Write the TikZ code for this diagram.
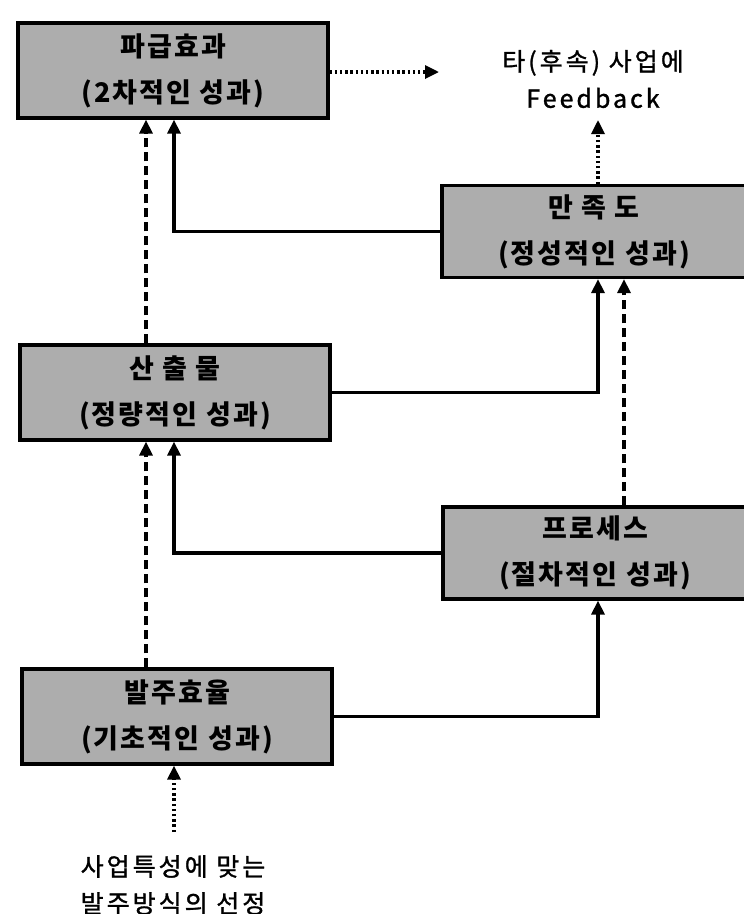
\documentclass[tikz,border=0pt]{standalone}
\usepackage{fontspec}
\newfontfamily\kr{Noto Sans CJK KR}[LetterSpace=8]
\newfontfamily\krm{Noto Sans CJK KR}[LetterSpace=12, FakeBold=1.2]
\usetikzlibrary{arrows.meta}
\definecolor{boxfill}{gray}{0.68}
\begin{document}
\begin{tikzpicture}[x=1pt,y=-1pt,
  box/.style={draw=black, line width=3.2pt, fill=boxfill, minimum width=310pt, minimum height=95pt,
    align=center, inner sep=0pt, font=\kr\bfseries\fontsize{27}{46}\selectfont},
  rbox/.style={box, minimum width=304pt, minimum height=92pt},
  arr/.style={-{Triangle[length=14pt,width=13pt]}},
  solidc/.style={line width=3.2pt, line join=miter, arr},
  dashc/.style={line width=3.2pt, dash pattern=on 9pt off 5pt, arr},
  dotc/.style={line width=3.2pt, dash pattern=on 2.4pt off 2.8pt, arr},
  lbl/.style={align=center, font=\krm\fontsize{25}{37}\selectfont}
]
\useasboundingbox (0,0) rectangle (744,914);

\node[box] (b1) at (173,70.5) {파급효과\\(2차적인 성과)};
\node[rbox] (b2) at (594,231.5) {만 족 도\\(정성적인 성과)};
\node[box] (b3) at (175,392.5) {산 출 물\\(정량적인 성과)};
\node[rbox] (b4) at (595,553) {프로세스\\(절차적인 성과)};
\node[box] (b5) at (177,716.5) {발주효율\\(기초적인 성과)};

\node[lbl] (fb) at (593,79) {타(후속) 사업에\\Feedback};
\node[lbl] (src) at (173,885) {사업특성에 맞는\\발주방식의 선정};

\coordinate (xa) at (146,0);
\coordinate (xb) at (174,0);
\coordinate (xc) at (598,0);
\coordinate (xd) at (624,0);
\coordinate (fbend) at (439,72);
\coordinate (fbup) at (598,120);
\coordinate (srcup) at (174,832);

% dotted
\draw[dotc] (b1.east |- fbend) -- (fbend);
\draw[dotc] (b2.north -| xc) -- (fbup);
\draw[dotc] (srcup) -- (b5.south -| xb);

% dashed verticals
\draw[dashc] (b3.north -| xa) -- (b1.south -| xa);
\draw[dashc] (b5.north -| xa) -- (b3.south -| xa);
\draw[dashc] (b4.north -| xd) -- (b2.south -| xd);

% solid elbows
\draw[solidc] (b2.west) -| (b1.south -| xb);
\draw[solidc] (b3.east) -| (b2.south -| xc);
\draw[solidc] (b4.west) -| (b3.south -| xb);
\draw[solidc] (b5.east) -| (b4.south -| xc);
\end{tikzpicture}
\end{document}
